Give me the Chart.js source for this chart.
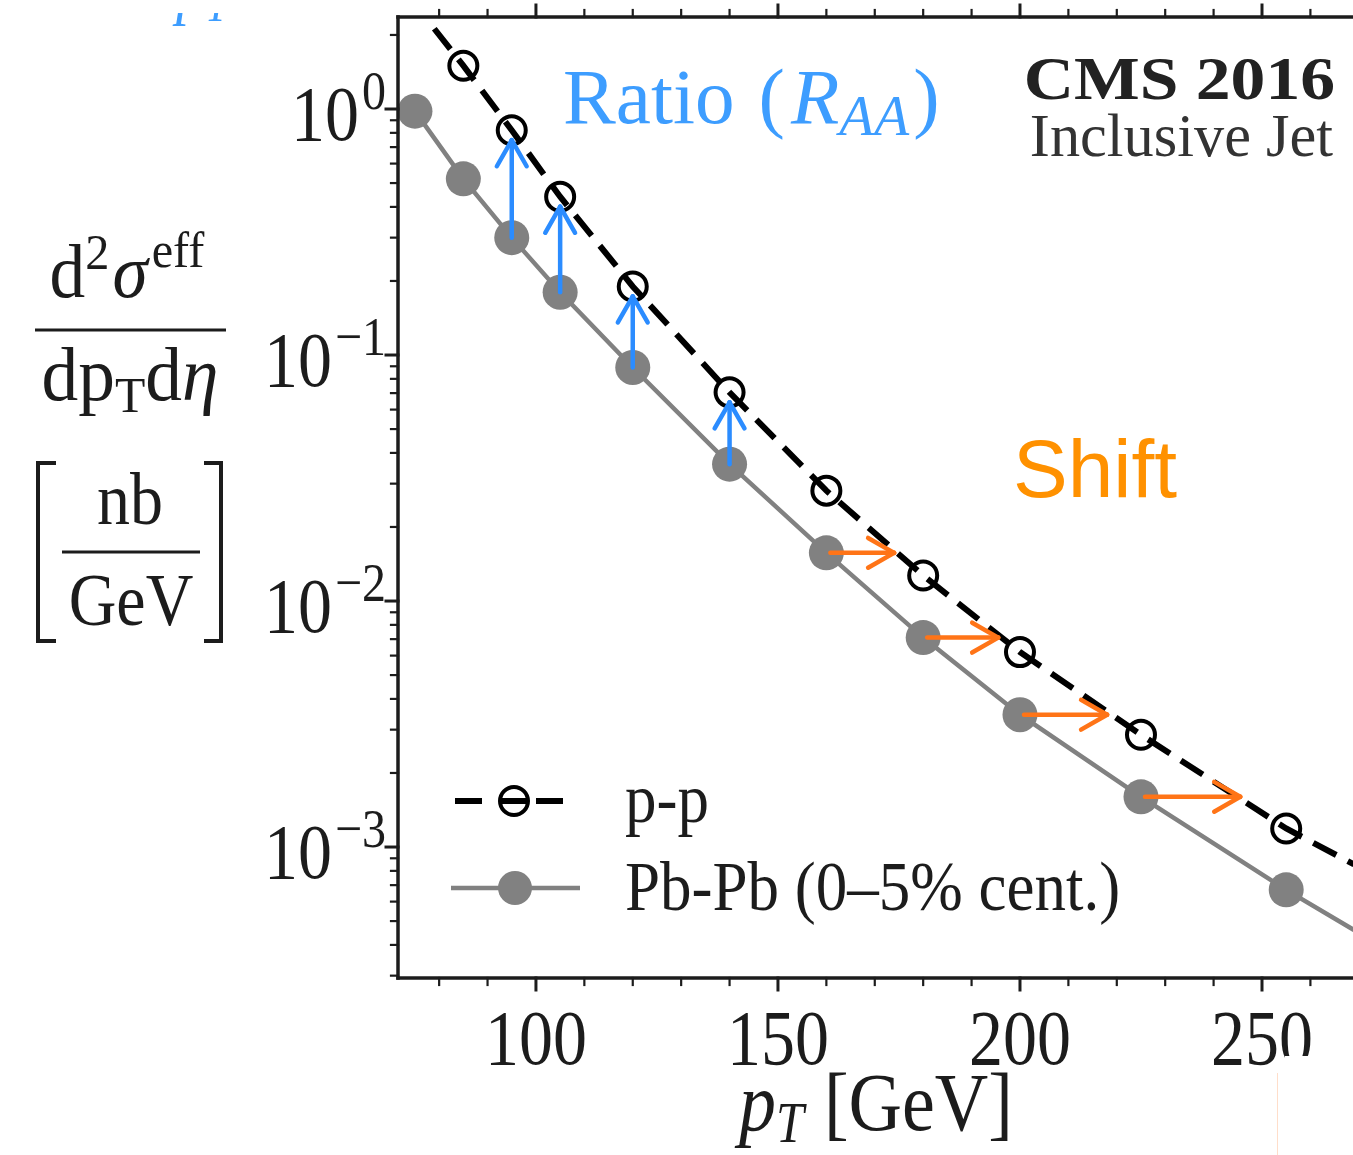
<!DOCTYPE html>
<html>
<head>
<meta charset="utf-8">
<title>Inclusive jet spectra</title>
<script src="https://cdn.jsdelivr.net/npm/chart.js@4.4.0/dist/chart.umd.min.js"></script>
<style>
  body { margin: 0; background: #fff; }
  #jet-chart { display: block; }
</style>
</head>
<body>
<canvas id="jet-chart" width="1353" height="1155"></canvas>
<script>
// jet pT [GeV] and d2sigma/dpT deta [nb/GeV]
const ptPP = [85, 95, 105, 120, 140, 160, 180, 200, 225, 255];
const xsecPP = [1.5, 0.82, 0.44, 0.19, 0.0705, 0.0281, 0.0127, 0.0062, 0.00286, 0.00119];
const ptPbPb = [75, 85, 95, 105, 120, 140, 160, 180, 200, 225, 255];
const xsecPbPb = [0.98, 0.52, 0.30, 0.18, 0.089, 0.036, 0.0157, 0.0071, 0.00345, 0.0016, 0.00067];

// where the curves run on past the measured points
const ppEndsPt = [79, 269];
const ppEndsXsec = [2.12, 0.00085];
const pbpbEndPt = 269;
const pbpbEndXsec = 0.00046;

// R_AA arrows (Pb-Pb up to p-p) and pT shift arrows
const ratioPt = [95, 105, 120, 140];
const shiftFromPt = [160, 180, 200, 225];
const shiftToPt = [174, 195.5, 218, 245.5];

const xTicksMajor = [100, 150, 200, 250];
const yTickExp = [0, -1, -2, -3];

const SERIF = '"Liberation Serif", "Times New Roman", serif';
const SANS = '"Liberation Sans", Arial, sans-serif';
const INK = '#1c1c1c';
const BLUE = '#2b8cff';
const ORANGE = '#ff7417';
const GREY = '#818181';

function fontStr(s) {
  return (s.italic ? 'italic ' : '') + (s.bold ? 'bold ' : '') + s.size + 'px ' + (s.family || SERIF);
}

// draws a run of text pieces (sub/superscripts via dy), optionally stretched
function drawRich(ctx, x, y, segs, align, color, sy, sx) {
  sx = sx || 1;
  let total = 0;
  segs.forEach(s => {
    ctx.font = fontStr(s);
    s.w = ctx.measureText(s.t).width * sx + (s.gap || 0);
    total += s.w;
  });
  let cx = align === 'center' ? x - total / 2 : align === 'right' ? x - total : x;
  ctx.save();
  ctx.fillStyle = color;
  ctx.textAlign = 'left';
  ctx.textBaseline = 'alphabetic';
  segs.forEach(s => {
    ctx.font = fontStr(s);
    ctx.save();
    ctx.translate(cx, y + (s.dy || 0));
    ctx.scale(sx, sy || 1.12);
    ctx.fillText(s.t, 0, 0);
    ctx.restore();
    cx += s.w;
  });
  ctx.restore();
}

function line(ctx, x1, y1, x2, y2) {
  ctx.beginPath();
  ctx.moveTo(x1, y1);
  ctx.lineTo(x2, y2);
  ctx.stroke();
}

function arrow(ctx, x1, y1, x2, y2, color) {
  const ang = Math.atan2(y2 - y1, x2 - x1);
  const head = 30, spread = 0.52;
  ctx.save();
  ctx.strokeStyle = color;
  ctx.lineWidth = 4.5;
  ctx.lineCap = 'round';
  line(ctx, x1, y1, x2, y2);
  line(ctx, x2, y2, x2 - head * Math.cos(ang - spread), y2 - head * Math.sin(ang - spread));
  line(ctx, x2, y2, x2 - head * Math.cos(ang + spread), y2 - head * Math.sin(ang + spread));
  ctx.restore();
}

const frame = {
  id: 'frame',
  afterDatasetsDraw(chart) {
    const ctx = chart.ctx;
    const xs = chart.scales.x, ys = chart.scales.y;
    const area = chart.chartArea;

    // blue ratio arrows
    ratioPt.forEach(pt => {
      const px = xs.getPixelForValue(pt);
      const yLow = ys.getPixelForValue(xsecPbPb[ptPbPb.indexOf(pt)]);
      const yHigh = ys.getPixelForValue(xsecPP[ptPP.indexOf(pt)]) + 10;
      arrow(ctx, px, yLow, px, yHigh, BLUE);
    });
    // orange shift arrows
    shiftFromPt.forEach((pt, i) => {
      const py = ys.getPixelForValue(xsecPbPb[ptPbPb.indexOf(pt)]);
      arrow(ctx, xs.getPixelForValue(pt) + 4, py, xs.getPixelForValue(shiftToPt[i]), py, ORANGE);
    });

    // spines
    ctx.save();
    ctx.strokeStyle = INK;
    ctx.lineWidth = 3.5;
    ctx.lineCap = 'square';
    line(ctx, area.left, area.top, area.left, area.bottom);
    line(ctx, area.left, area.bottom, area.right + 5, area.bottom);
    line(ctx, area.left, area.top, area.right + 5, area.top);

    // x ticks, outward on bottom and top
    for (let v = 80; v <= 260; v += 10) {
      const major = v % 50 === 0;
      const px = xs.getPixelForValue(v);
      const len = major ? 12 : 7;
      ctx.lineWidth = major ? 3 : 2.2;
      line(ctx, px, area.bottom, px, area.bottom + len);
      line(ctx, px, area.top, px, area.top - len);
    }
    // y ticks, log decades with minor marks
    for (let e = -4; e <= 0; e++) {
      for (let m = 1; m <= 9; m++) {
        const v = m * Math.pow(10, e);
        if (v < ys.min || v > ys.max) continue;
        const py = ys.getPixelForValue(v);
        const major = m === 1;
        ctx.lineWidth = major ? 3 : 2.2;
        line(ctx, area.left, py, area.left - (major ? 12 : 7), py);
      }
    }
    ctx.restore();

    // tick labels
    xTicksMajor.forEach(v => {
      drawRich(ctx, xs.getPixelForValue(v), area.bottom + 86, [{ t: String(v), size: 68 }], 'center', INK, 1.15);
    });
    yTickExp.forEach(e => {
      const py = ys.getPixelForValue(Math.pow(10, e));
      const sup = e === 0 ? '0' : '\u2212' + (-e);
      drawRich(ctx, 386, py + 31, [
        { t: '10', size: 68, gap: 3 },
        { t: sup, size: 48, dy: -31 }
      ], 'right', INK, 1.15);
    });

    // x axis title
    drawRich(ctx, 876, 1130, [
      { t: 'p', size: 74, italic: true },
      { t: 'T', size: 50, italic: true, dy: 12, gap: 20 },
      { t: '[GeV]', size: 74 }
    ], 'center', INK, 1.12);

    // y axis title: fraction and units
    drawRich(ctx, 127, 297, [
      { t: 'd', size: 68 },
      { t: '2', size: 46, dy: -28, gap: 3 },
      { t: '\u03c3', size: 68, italic: true, gap: 4 },
      { t: 'eff', size: 46, dy: -30 }
    ], 'center', INK, 1.12, 1.05);
    drawRich(ctx, 130, 400, [
      { t: 'dp', size: 68 },
      { t: 'T', size: 46, dy: 12 },
      { t: 'd', size: 68 },
      { t: '\u03b7', size: 68, italic: true }
    ], 'center', INK, 1.12, 1.08);
    drawRich(ctx, 130, 524, [{ t: 'nb', size: 66 }], 'center', INK, 1.12);
    drawRich(ctx, 131, 625, [{ t: 'GeV', size: 66 }], 'center', INK, 1.12);
    ctx.save();
    ctx.strokeStyle = INK;
    ctx.lineWidth = 3;
    line(ctx, 35, 330, 226, 330);
    line(ctx, 62, 552, 200, 552);
    ctx.lineWidth = 4;
    ctx.beginPath();
    ctx.moveTo(56, 463); ctx.lineTo(38, 463); ctx.lineTo(38, 641); ctx.lineTo(56, 641);
    ctx.moveTo(204, 463); ctx.lineTo(221, 463); ctx.lineTo(221, 641); ctx.lineTo(204, 641);
    ctx.stroke();
    ctx.restore();

    // annotations
    drawRich(ctx, 563, 123, [
      { t: 'Ratio', size: 72, gap: 24 },
      { t: '(', size: 72, gap: 6 },
      { t: 'R', size: 72, italic: true },
      { t: 'AA', size: 52, italic: true, dy: 12, gap: 4 },
      { t: ')', size: 72 }
    ], 'left', '#3d9dff', 1.1, 1.1);
    drawRich(ctx, 1335, 99, [{ t: 'CMS 2016', size: 58, bold: true }], 'right', '#222', 1.05, 1.2);
    drawRich(ctx, 1333, 156, [{ t: 'Inclusive Jet', size: 58 }], 'right', '#333', 1.05, 1.04);
    drawRich(ctx, 1013, 497, [{ t: 'Shift', size: 82, family: SANS }], 'left', '#ff9100', 1.0);

    // partly hidden blue label at the very top
    ctx.save();
    ctx.beginPath();
    ctx.rect(0, 13, 390, 40);
    ctx.clip();
    drawRich(ctx, 176, 12, [
      { t: 'p', size: 58, italic: true },
      { t: 'T', size: 42, italic: true, dy: 9 }
    ], 'left', '#3d9dff', 1.1);
    ctx.restore();

    // legend
    ctx.save();
    ctx.strokeStyle = '#000';
    ctx.lineWidth = 6;
    line(ctx, 455, 801, 482, 801);
    line(ctx, 501, 801, 527, 801);
    line(ctx, 536, 801, 563, 801);
    ctx.lineWidth = 4;
    ctx.beginPath();
    ctx.arc(514, 801, 14, 0, Math.PI * 2);
    ctx.stroke();
    ctx.strokeStyle = GREY;
    ctx.lineWidth = 4.5;
    line(ctx, 451, 888, 580, 888);
    ctx.fillStyle = GREY;
    ctx.beginPath();
    ctx.arc(515, 888, 17, 0, Math.PI * 2);
    ctx.fill();
    ctx.restore();
    drawRich(ctx, 625, 822, [{ t: 'p-p', size: 63 }], 'left', INK, 1.12);
    drawRich(ctx, 625, 910, [{ t: 'Pb-Pb (0\u20135% cent.)', size: 63 }], 'left', INK, 1.12);

    // pasted white patch over the last x label, with its faint edge
    ctx.fillStyle = '#fff';
    ctx.fillRect(1285, 1056, 68, 99);
    ctx.strokeStyle = 'rgba(255, 190, 150, 0.5)';
    ctx.lineWidth = 1;
    line(ctx, 1277.5, 1073, 1277.5, 1155);
  }
};

const ppData = [{ x: ppEndsPt[0], y: ppEndsXsec[0] }]
  .concat(ptPP.map((pt, i) => ({ x: pt, y: xsecPP[i] })))
  .concat([{ x: ppEndsPt[1], y: ppEndsXsec[1] }]);
const ppRadius = ppData.map((d, i) => (i === 0 || i === ppData.length - 1) ? 0 : 14);

const pbpbData = ptPbPb.map((pt, i) => ({ x: pt, y: xsecPbPb[i] }))
  .concat([{ x: pbpbEndPt, y: pbpbEndXsec }]);
const pbpbRadius = pbpbData.map((d, i) => i === pbpbData.length - 1 ? 0 : 17.5);

new Chart(document.getElementById('jet-chart'), {
  type: 'line',
  data: {
    datasets: [
      {
        label: 'Pb-Pb (0\u20135% cent.)',
        data: pbpbData,
        borderColor: GREY,
        borderWidth: 4.5,
        backgroundColor: GREY,
        pointRadius: pbpbRadius,
        pointBorderWidth: 0,
        tension: 0
      },
      {
        label: 'p-p',
        data: ppData,
        borderColor: '#000',
        borderWidth: 6,
        borderDash: [26, 13],
        backgroundColor: 'rgba(0,0,0,0)',
        pointBorderColor: '#000',
        pointBorderWidth: 4,
        pointRadius: ppRadius,
        tension: 0
      }
    ]
  },
  options: {
    responsive: false,
    devicePixelRatio: 1,
    animation: false,
    layout: { autoPadding: false, padding: { left: 398, top: 17, right: 0, bottom: 177 } },
    plugins: { legend: { display: false }, tooltip: { enabled: false } },
    scales: {
      x: { type: 'linear', display: false, min: 71.5, max: 268.8 },
      y: { type: 'logarithmic', display: false, min: 0.0002935, max: 2.366 }
    }
  },
  plugins: [frame]
});
</script>
</body>
</html>
